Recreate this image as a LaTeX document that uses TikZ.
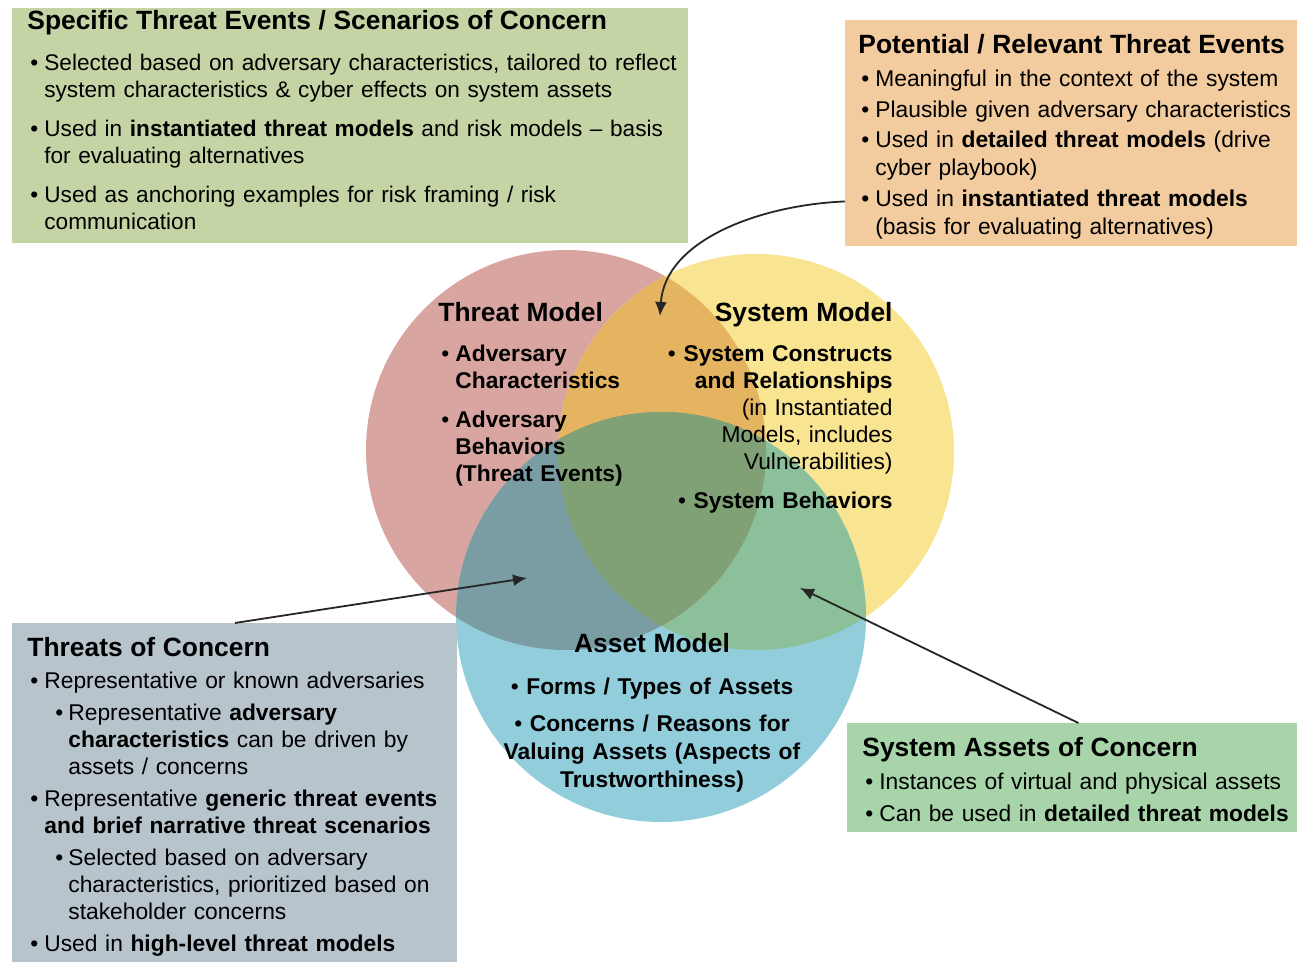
\documentclass[tikz,border=0pt]{standalone}
\usepackage{fontspec}
\setmainfont{Liberation Sans}
\usepackage{tikz}
\usetikzlibrary{arrows.meta,calc}

\definecolor{threatred}{HTML}{D8A5A0}
\definecolor{sysyellow}{HTML}{F8E491}
\definecolor{assetblue}{HTML}{92CDDC}
\definecolor{tsorange}{HTML}{E4B460}
\definecolor{taslate}{HTML}{7A9CA3}
\definecolor{sagreen}{HTML}{8CC09B}
\definecolor{allolive}{HTML}{80A076}
\definecolor{specgreen}{HTML}{C4D4A4}
\definecolor{potorange}{HTML}{F2CB9E}
\definecolor{tocgrey}{HTML}{B7C4CC}
\definecolor{sacgreen}{HTML}{A8D4AA}

\newcommand{\bodyfont}{\fontsize{11.4}{14}\selectfont\parindent=0pt}
\newcommand{\ttl}[1]{{\fontsize{13.2}{16}\selectfont\bfseries #1}\par}
\newcommand{\bul}{\noindent\hangindent=8.5pt\hangafter=1\hspace*{1.5pt}\makebox[7pt][l]{\textbullet}}
\newcommand{\subbul}{\noindent\hangindent=20.5pt\hangafter=1\hspace*{14pt}\makebox[6.5pt][l]{\textbullet}}

\begin{document}
\begin{tikzpicture}[x=0.5pt,y=-0.5pt]
\tikzstyle{box}=[rectangle,draw=none,inner sep=0pt,anchor=north west]
\tikzstyle{txt}=[inner sep=0pt,anchor=north west,align=left,font=\bodyfont]
\tikzstyle{link}=[draw=black!85,line width=0.9pt,-{Latex[length=7pt,width=6pt]}]
\useasboundingbox (0,0) rectangle (1297,962);

% the three models
\foreach \name/\point in {tm/{566,450}, sm/{756,452}, am/{661,617}}
  \coordinate (\name) at (\point);
\fill[threatred] (tm) circle (100pt);
\fill[sysyellow] (sm) circle (99pt);
\fill[assetblue] (am) circle (102.5pt);
\begin{scope}
  \clip (sm) circle (99pt);
  \fill[sagreen] (am) circle (102.5pt);
\end{scope}
\begin{scope}
  \clip (tm) circle (100pt);
  \fill[tsorange] (sm) circle (99pt);
  \fill[taslate] (am) circle (102.5pt);
  \clip (sm) circle (99pt);
  \fill[allolive] (am) circle (102.5pt);
\end{scope}

% boxes
\node[box,fill=specgreen,minimum width=338pt,minimum height=117.5pt] (specbox) at (12,8) {};
\node[box,fill=potorange,minimum width=226pt,minimum height=113pt] (potbox) at (845,20) {};
\node[box,fill=tocgrey,minimum width=222.5pt,minimum height=169.5pt] (tocbox) at (12,623) {};
\node[box,fill=sacgreen,minimum width=225pt,minimum height=54.5pt] (sacbox) at (847,723) {};

\node[txt,text width=345pt] (spectxt) at (27,10) {\fontsize{11.3}{13.5}\selectfont\setlength{\parskip}{6pt}%
\ttl{Specific Threat Events / Scenarios of Concern}\vspace{1pt}
\bul Selected based on adversary characteristics, tailored to reflect\newline system characteristics \& cyber effects on system assets\par
\bul Used in \textbf{instantiated threat models} and risk models -- basis\newline for evaluating alternatives\par
\bul Used as anchoring examples for risk framing / risk\newline communication\par};

\node[txt,text width=235pt] (pottxt) at (858,33.5) {\setlength{\parskip}{1.3pt}%
\ttl{Potential / Relevant Threat Events}\vspace{1.5pt}
\bul Meaningful in the context of the system\par
\bul Plausible given adversary characteristics\par
\bul Used in \textbf{detailed threat models} (drive\newline cyber playbook)\par
\bul Used in \textbf{instantiated threat models}\newline (basis for evaluating alternatives)\par};

\node[txt,text width=230pt] (toctxt) at (27,637) {\fontsize{11.4}{13.5}\selectfont\setlength{\parskip}{2.5pt}%
\ttl{Threats of Concern}\vspace{0pt}
\bul Representative or known adversaries\par
\subbul Representative \textbf{adversary}\newline\textbf{characteristics} can be driven by\newline assets / concerns\par
\bul Representative \textbf{generic threat events}\newline\textbf{and brief narrative threat scenarios}\par
\subbul Selected based on adversary\newline characteristics, prioritized based on\newline stakeholder concerns\par
\bul Used in \textbf{high-level threat models}\par};

\node[txt,text width=230pt] (sactxt) at (862,737) {\setlength{\parskip}{2pt}%
\ttl{System Assets of Concern}\vspace{0.5pt}
\bul Instances of virtual and physical assets\par
\bul Can be used in \textbf{detailed threat models}\par};

% model texts
\node[txt,text width=100pt] (tmtxt) at (438,302) {\fontsize{11.4}{13.5}\selectfont\setlength{\parskip}{6pt}%
\ttl{Threat Model}\vspace{0.5pt}
\bul\textbf{Adversary}\newline\textbf{Characteristics}\par
\bul\textbf{Adversary}\newline\textbf{Behaviors}\newline\textbf{(Threat Events)}\par};

\node[txt,anchor=north east,align=right,text width=120pt] (smtxt) at (893,302) {\fontsize{11.4}{13.5}\selectfont\setlength{\parskip}{6pt}%
\ttl{System Model}\vspace{0.5pt}
\textbullet\ \textbf{System Constructs}\\\textbf{and Relationships}\\(in Instantiated\\Models, includes\\Vulnerabilities)\par
\textbullet\ \textbf{System Behaviors}\par};

\node[txt,anchor=north,align=center,text width=160pt] (amtxt) at (652,632.5) {\setlength{\parskip}{4.5pt}%
\ttl{Asset Model}\vspace{2.5pt}
\textbullet\ \textbf{Forms / Types of Assets}\par
\textbullet\ \textbf{Concerns / Reasons for}\\\textbf{Valuing Assets (Aspects of}\\\textbf{Trustworthiness)}\par};

% arrows
\coordinate (tsend) at (660,316);
\coordinate (taend) at (527,578);
\coordinate (saend) at (800,588);
\draw[link] ($(potbox.south west)!0.2!(potbox.north west)$) .. controls (760,205) and (665,240) .. (tsend);
\draw[link] (tocbox.north) -- (taend);
\draw[link] ($(sacbox.north)+(6,0)$) -- (saend);
\end{tikzpicture}
\end{document}
